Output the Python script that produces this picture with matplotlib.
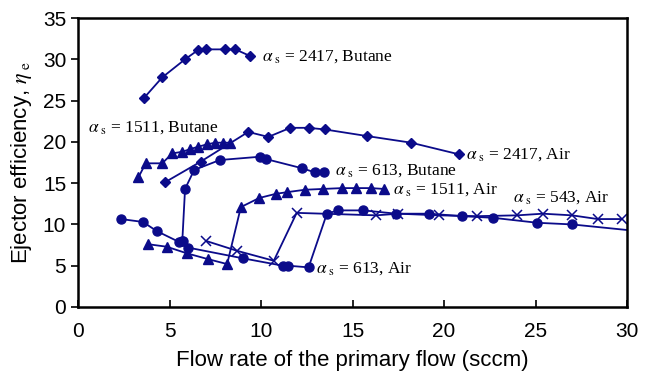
import matplotlib
matplotlib.use('Agg')
import matplotlib.pyplot as plt

plt.rcParams['font.family'] = ['Liberation Sans', 'DejaVu Sans']
plt.rcParams['mathtext.fontset'] = 'stix'

# datos
but_2417_x = [3.6, 4.6, 5.85, 6.55, 7.0, 8.05, 8.6, 9.4]
but_2417_y = [25.3, 27.8, 30.0, 31.1, 31.2, 31.2, 31.2, 30.4]

but_1511_x = [3.3, 3.7, 4.6, 5.15, 5.7, 6.1, 6.55, 7.05, 7.5, 7.95, 8.3]
but_1511_y = [15.7, 17.4, 17.4, 18.6, 18.8, 19.1, 19.4, 19.7, 19.9, 19.9, 19.9]

air_2417_x = [4.75, 6.7, 9.3, 10.4, 11.6, 12.6, 13.5, 15.8, 18.2, 20.8]
air_2417_y = [15.1, 17.6, 21.2, 20.6, 21.7, 21.7, 21.5, 20.7, 19.9, 18.5]

but_613_x = [5.7, 5.85, 6.35, 7.75, 9.95, 10.3, 12.25, 12.95, 13.45]
but_613_y = [8.0, 14.3, 16.6, 17.8, 18.2, 17.9, 16.8, 16.3, 16.3]

air_1511_x = [3.85, 4.85, 5.95, 7.1, 8.15, 8.9, 9.9, 10.8, 11.4, 12.4, 13.4, 14.45, 15.2, 16.0, 16.7]
air_1511_y = [7.6, 7.3, 6.5, 5.8, 5.2, 12.1, 13.2, 13.7, 13.9, 14.2, 14.3, 14.4, 14.4, 14.4, 14.3]

air_613_x = [2.35, 3.55, 4.3, 5.5, 5.75, 6.0, 9.0, 11.2, 11.5, 12.6, 13.6, 14.2, 15.6, 17.4, 19.2, 21.0, 22.7, 25.1, 27.0, 31.0]
air_613_y = [10.65, 10.3, 9.2, 7.9, 8.0, 7.2, 5.9, 5.0, 5.0, 4.8, 11.3, 11.7, 11.7, 11.3, 11.3, 11.0, 10.8, 10.2, 10.0, 9.1]

air_543_x = [7.0, 8.7, 10.7, 11.95, 16.3, 17.5, 19.7, 21.8, 24.0, 25.4, 27.0, 28.4, 29.7]
air_543_y = [8.0, 6.8, 5.6, 11.4, 11.1, 11.3, 11.1, 11.0, 11.1, 11.3, 11.1, 10.65, 10.65]

etiquetas = [r'$\alpha_{\rm\ s}$ = 2417, Butane', r'$\alpha_{\rm\ s}$ = 1511, Butane',
             r'$\alpha_{\rm\ s}$ = 2417, Air', r'$\alpha_{\rm\ s}$ = 613, Butane',
             r'$\alpha_{\rm\ s}$ = 1511, Air', r'$\alpha_{\rm\ s}$ = 543, Air',
             r'$\alpha_{\rm\ s}$ = 613, Air']
etiq_x = [10.05, 0.55, 21.2, 14.05, 17.2, 23.75, 13.0]
etiq_y = [30.3, 21.7, 18.4, 16.5, 14.2, 13.3, 4.7]

color = '#0b0b8a'

fig = plt.figure(figsize=(6.49, 3.82), dpi=100)
ax = fig.add_axes([78 / 649, 1 - 307 / 382, (627 - 78) / 649, (307 - 18) / 382])

ax.plot(but_2417_x, but_2417_y, color=color, marker='D', ms=5, lw=1.3)
ax.plot(but_1511_x, but_1511_y, color=color, marker='^', ms=6.5, lw=1.3)
ax.plot(air_2417_x, air_2417_y, color=color, marker='D', ms=5, lw=1.3)
ax.plot(but_613_x, but_613_y, color=color, marker='o', ms=6.5, lw=1.3)
ax.plot(air_1511_x, air_1511_y, color=color, marker='^', ms=6.5, lw=1.3)
ax.plot(air_613_x, air_613_y, color=color, marker='o', ms=6.5, lw=1.3)
ax.plot(air_543_x, air_543_y, color=color, marker='x', ms=6.5, mew=1.1, lw=1.3)

for t, x, y in zip(etiquetas, etiq_x, etiq_y):
    ax.text(x, y, t, fontsize=12.5, family='Liberation Serif', va='center', ha='left')

ax.set_xlim(0, 30)
ax.set_ylim(0, 35)
ax.set_xticks(range(0, 31, 5))
ax.set_yticks(range(0, 36, 5))
ax.tick_params(axis='x', direction='in', length=5, width=1.2, labelsize=15, pad=11)
ax.tick_params(axis='y', direction='out', length=5, width=1.2, labelsize=15)
for s in ax.spines.values():
    s.set_linewidth(1.8)
ax.set_xlabel('Flow rate of the primary flow (sccm)', fontsize=16, labelpad=6)
ax.set_ylabel(r'Ejector efficiency, $\eta_{\rm\ e}$', fontsize=16, labelpad=6)

plt.savefig('out.png', dpi=100)
